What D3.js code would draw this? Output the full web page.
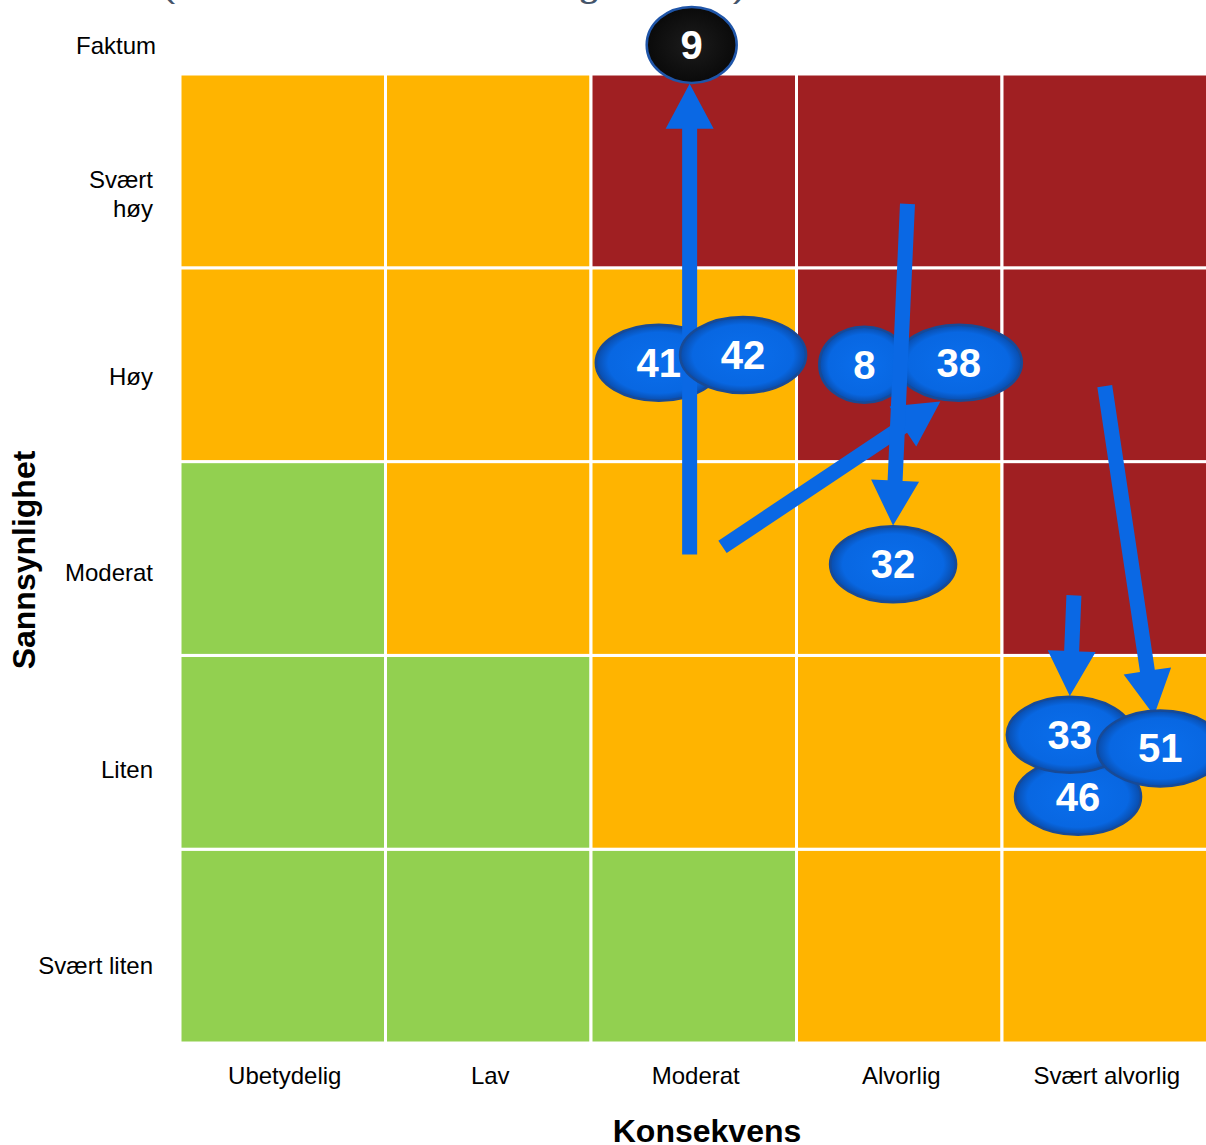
<!DOCTYPE html>
<html>
<head>
<meta charset="utf-8">
<script src="https://cdn.jsdelivr.net/npm/d3@7"></script>
<style>
  body { margin: 0; background: #fff; }
  svg { display: block; font-family: "Liberation Sans", Arial, sans-serif; }
</style>
</head>
<body>
<div id="matrix"></div>
<script>
// axis categories
var consequences = ["Ubetydelig", "Lav", "Moderat", "Alvorlig", "Svært alvorlig"];
var likelihoods = ["Svært liten", "Liten", "Moderat", "Høy", "Svært høy"];
var factLabel = "Faktum";

// risk level per cell, rows from "Svært liten" up to "Svært høy"
var levels = [
  ["G", "G", "G", "O", "O"],
  ["G", "G", "O", "O", "O"],
  ["G", "O", "O", "O", "R"],
  ["O", "O", "O", "R", "R"],
  ["O", "O", "R", "R", "R"]
];

// risk markers: consequence / likelihood on a continuous 0-5 scale
var riskIds = ["41", "42", "8", "38", "32", "46", "33", "51", "9"];
var riskCons = [2.33, 2.74, 3.33, 3.79, 3.47, 4.37, 4.33, 4.77, 2.49];
var riskLik = [3.51, 3.55, 3.50, 3.51, 2.47, 1.27, 1.59, 1.52, 5.15];
var riskFact = [false, false, false, false, false, false, false, false, true];

// movement arrows (from -> to)
var arrowFrom = [[2.48, 2.52], [2.64, 2.56], [3.54, 4.33], [4.35, 2.31], [4.50, 3.39]];
var arrowTo   = [[2.48, 4.95], [3.70, 3.31], [3.47, 2.67], [4.33, 1.79], [4.74, 1.69]];

var svgWidth = 1206;
var svgHeight = 1145;

var svg = d3.select("#matrix").append("svg")
    .attr("width", svgWidth)
    .attr("height", svgHeight);

var xScale = d3.scaleLinear().domain([0, 5]).range([180, 1207.5]);
var yScale = d3.scaleLinear().domain([0, 5]).range([1043, 74]);

var colors = { G: "#92D050", O: "#FFB400", R: "#A01F22" };

// gradients for the ellipses
var defs = svg.append("defs");
var blueGrad = defs.append("radialGradient").attr("id", "blueGrad");
blueGrad.append("stop").attr("offset", "0%").attr("stop-color", "#0A6EEC");
blueGrad.append("stop").attr("offset", "80%").attr("stop-color", "#0867E2");
blueGrad.append("stop").attr("offset", "100%").attr("stop-color", "#0A4CAA");
var blackGrad = defs.append("radialGradient").attr("id", "blackGrad");
blackGrad.append("stop").attr("offset", "0%").attr("stop-color", "#1c1c1c");
blackGrad.append("stop").attr("offset", "100%").attr("stop-color", "#0a0a0a");

// title (mostly outside the frame)
svg.append("text")
  .attr("x", 454)
  .attr("y", -2)
  .attr("text-anchor", "middle")
  .attr("font-size", 30)
  .attr("textLength", 584)
  .attr("lengthAdjust", "spacingAndGlyphs")
  .attr("fill", "#44546A")
  .text("(Risikobildet etter forslag til tiltak)");

// cells
var cells = [];
levels.forEach(function(row, r) {
  row.forEach(function(lv, c) {
    cells.push({ r: r, c: c, lv: lv });
  });
});

svg.append("g").selectAll("rect")
  .data(cells)
  .enter()
  .append("rect")
  .attr("x", d => xScale(d.c))
  .attr("y", d => yScale(d.r + 1))
  .attr("width", d => xScale(d.c + 1) - xScale(d.c))
  .attr("height", d => yScale(d.r) - yScale(d.r + 1))
  .attr("fill", d => colors[d.lv])
  .attr("stroke", "#fff")
  .attr("stroke-width", 3);

// x labels
svg.append("g").selectAll("text")
  .data(consequences)
  .enter()
  .append("text")
  .attr("x", (d, i) => xScale(i + 0.5) + 2)
  .attr("y", 1084)
  .attr("text-anchor", "middle")
  .attr("font-size", 24)
  .attr("fill", "#000")
  .text(d => d);

// y labels
var yLab = svg.append("g");
likelihoods.forEach(function(lab, i) {
  var t = yLab.append("text")
    .attr("text-anchor", "end")
    .attr("font-size", 24)
    .attr("fill", "#000");
  var parts = lab.split(" ");
  if (i === 4) {
    parts.forEach(function(p, k) {
      t.append("tspan")
        .attr("x", 153)
        .attr("y", yScale(i + 0.5) + 17 + k * 29)
        .text(p);
    });
  } else {
    t.attr("x", 153).attr("y", yScale(i + 0.5) + 28 - 2.7 * i).text(lab);
  }
});
yLab.append("text")
  .attr("x", 156)
  .attr("y", yScale(5.15) + 9)
  .attr("text-anchor", "end")
  .attr("font-size", 24)
  .text(factLabel);

// axis titles
svg.append("text")
  .attr("transform", "translate(35, 560) rotate(-90)")
  .attr("text-anchor", "middle")
  .attr("font-size", 32)
  .attr("font-weight", "bold")
  .text("Sannsynlighet");

svg.append("text")
  .attr("x", 707)
  .attr("y", 1142)
  .attr("text-anchor", "middle")
  .attr("font-size", 32)
  .attr("font-weight", "bold")
  .text("Konsekvens");

// arrow polygon from scaled endpoints
function arrowPoints(a, b) {
  var x0 = xScale(a[0]), y0 = yScale(a[1]);
  var x1 = xScale(b[0]), y1 = yScale(b[1]);
  var dx = x1 - x0, dy = y1 - y0;
  var len = Math.sqrt(dx * dx + dy * dy);
  var ux = dx / len, uy = dy / len;
  var nx = -uy, ny = ux;
  var sw = 7.5, hw = 24, hl = 45;
  var bx = x1 - ux * hl, by = y1 - uy * hl;
  var pts = [
    [x0 + nx * sw, y0 + ny * sw],
    [bx + nx * sw, by + ny * sw],
    [bx + nx * hw, by + ny * hw],
    [x1, y1],
    [bx - nx * hw, by - ny * hw],
    [bx - nx * sw, by - ny * sw],
    [x0 - nx * sw, y0 - ny * sw]
  ];
  return pts.map(p => p.join(",")).join(" ");
}

var risks = riskIds.map(function(id, i) {
  return { id: id, x: riskCons[i], y: riskLik[i], fact: riskFact[i] };
});

function drawRisk(g, d) {
  var rx = d.id.length === 1 ? 45 : 63;
  g.append("ellipse")
    .attr("cx", xScale(d.x))
    .attr("cy", yScale(d.y))
    .attr("rx", rx)
    .attr("ry", 38)
    .attr("fill", d.fact ? "url(#blackGrad)" : "url(#blueGrad)")
    .attr("stroke", d.fact ? "#1F55A8" : "#184A96")
    .attr("stroke-width", 2.5);
  g.append("text")
    .attr("x", xScale(d.x))
    .attr("y", yScale(d.y) + 14)
    .attr("text-anchor", "middle")
    .attr("font-size", 40)
    .attr("font-weight", "bold")
    .attr("fill", "#fff")
    .text(d.id);
}

var markers = svg.append("g");

// draw order: 41, arrow up, 42, 8, 38, arrows, 32, 46, 33, 51, 9
drawRisk(markers, risks[0]);
markers.append("polygon")
  .attr("points", arrowPoints(arrowFrom[0], arrowTo[0]))
  .attr("fill", "#0A68E4");
drawRisk(markers, risks[1]);
drawRisk(markers, risks[2]);
drawRisk(markers, risks[3]);

markers.selectAll("polygon.mv")
  .data(d3.range(1, arrowFrom.length))
  .enter()
  .append("polygon")
  .attr("class", "mv")
  .attr("points", i => arrowPoints(arrowFrom[i], arrowTo[i]))
  .attr("fill", "#0A68E4");

for (var k = 4; k < risks.length; k++) {
  drawRisk(markers, risks[k]);
}
</script>
</body>
</html>
